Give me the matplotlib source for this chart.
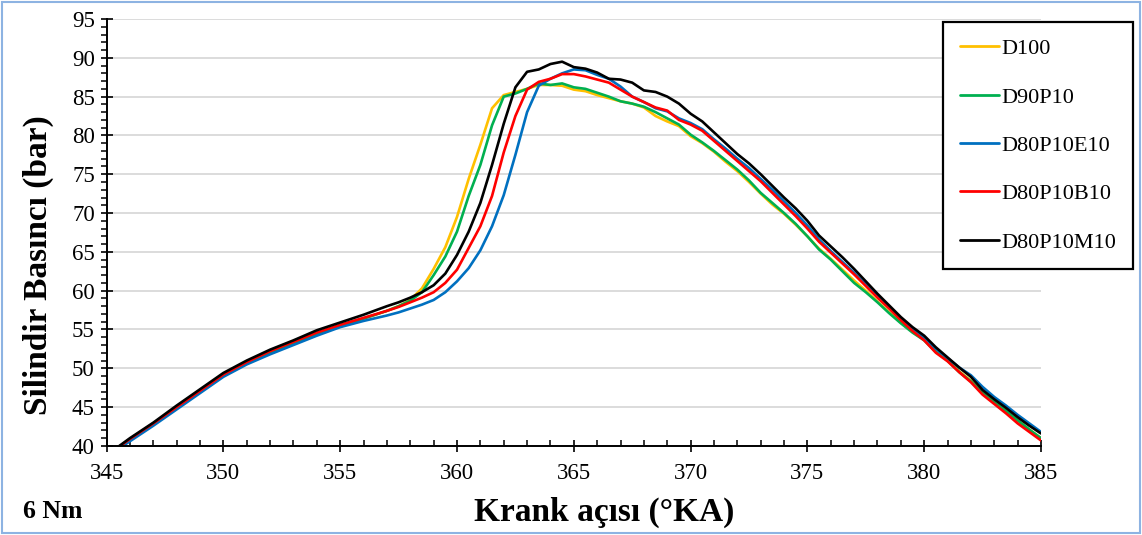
import numpy as np
import matplotlib
matplotlib.use("Agg")
import matplotlib.pyplot as plt
from matplotlib.patches import Rectangle
from matplotlib.ticker import MultipleLocator

plt.rcParams['font.family'] = ['Liberation Serif', 'DejaVu Serif']

# crank angle (°KA)
crank = [345.5, 346, 347, 348, 349, 350, 351, 352, 353, 354, 355, 356, 357, 357.5,
         358, 358.5, 359, 359.5, 360, 360.5, 361, 361.5, 362, 362.5, 363, 363.5,
         364, 364.5, 365, 365.5, 366, 366.5, 367, 367.5, 368, 368.5, 369, 369.5,
         370, 370.5, 371, 371.5, 372, 372.5, 373, 373.5, 374, 374.5, 375, 375.5,
         376, 376.5, 377, 377.5, 378, 378.5, 379, 379.5, 380, 380.5, 381, 381.5,
         382, 382.5, 383, 383.5, 384, 384.5, 385]

d100 = [39.8, 40.8, 42.8, 44.9, 47.0, 49.1, 50.7, 52.0, 53.2, 54.4, 55.4, 56.4, 57.4, 58.0,
        58.8, 60.3, 62.8, 65.6, 69.5, 74.4, 78.8, 83.5, 85.2, 85.6, 86.0, 86.5,
        86.5, 86.4, 85.9, 85.7, 85.2, 84.8, 84.4, 84.1, 83.6, 82.5, 81.8, 81.2,
        79.9, 79.0, 77.9, 76.6, 75.4, 74.0, 72.5, 71.1, 69.9, 68.5, 67.0, 65.4,
        64.1, 62.7, 61.3, 60.0, 58.6, 57.2, 55.9, 54.7, 53.7, 52.2, 51.0, 49.6,
        48.4, 46.9, 45.7, 44.5, 43.3, 42.1, 41.0]

d90p10 = [39.8, 40.8, 42.8, 44.9, 47.0, 49.1, 50.7, 52.0, 53.2, 54.4, 55.4, 56.4, 57.4, 58.0,
          58.7, 59.8, 62.0, 64.4, 67.6, 72.2, 76.2, 81.3, 85.0, 85.4, 86.0, 86.7,
          86.5, 86.7, 86.2, 86.0, 85.5, 85.0, 84.4, 84.1, 83.7, 83.0, 82.2, 81.4,
          80.1, 79.1, 78.0, 76.8, 75.6, 74.2, 72.6, 71.3, 70.0, 68.6, 67.0, 65.3,
          64.0, 62.5, 61.0, 59.8, 58.5, 57.1, 55.8, 54.6, 53.6, 52.1, 51.0, 49.5,
          48.3, 46.8, 45.6, 44.5, 43.3, 42.1, 41.0]

d80p10e10 = [39.6, 40.6, 42.6, 44.7, 46.8, 48.9, 50.5, 51.8, 53.0, 54.2, 55.3, 56.1, 56.8, 57.2,
             57.7, 58.2, 58.8, 59.8, 61.2, 62.9, 65.2, 68.3, 72.3, 77.5, 83.0, 86.4,
             87.3, 88.0, 88.5, 88.4, 87.8, 87.3, 86.3, 85.0, 84.3, 83.5, 83.1, 82.2,
             81.6, 80.8, 79.5, 78.3, 77.0, 75.8, 74.4, 73.0, 71.5, 70.0, 68.4, 66.6,
             65.1, 63.7, 62.3, 60.8, 59.3, 57.8, 56.3, 55.0, 53.9, 52.5, 51.3, 50.1,
             49.1, 47.6, 46.3, 45.2, 44.0, 42.9, 41.8]

d80p10b10 = [39.8, 40.9, 42.9, 45.0, 47.1, 49.2, 50.8, 52.2, 53.4, 54.6, 55.6, 56.5, 57.4, 57.9,
             58.5, 59.1, 59.8, 61.0, 62.7, 65.5, 68.3, 72.2, 77.8, 82.5, 85.9, 86.9,
             87.3, 87.9, 87.9, 87.6, 87.2, 86.8, 85.9, 85.0, 84.3, 83.6, 83.2, 82.0,
             81.4, 80.6, 79.3, 78.0, 76.7, 75.4, 74.1, 72.6, 71.1, 69.6, 68.0, 66.3,
             64.9, 63.5, 62.1, 60.6, 59.1, 57.7, 56.2, 54.8, 53.6, 52.0, 50.9, 49.5,
             48.2, 46.6, 45.4, 44.2, 42.9, 41.8, 40.7]

d80p10m10 = [39.9, 41.0, 43.0, 45.2, 47.3, 49.4, 51.0, 52.4, 53.6, 54.9, 55.9, 56.9, 58.0, 58.5,
             59.1, 59.8, 60.7, 62.2, 64.6, 67.6, 71.3, 76.2, 81.5, 86.2, 88.2, 88.5,
             89.2, 89.5, 88.8, 88.6, 88.1, 87.3, 87.2, 86.8, 85.8, 85.6, 85.0, 84.1,
             82.8, 81.8, 80.4, 79.0, 77.6, 76.4, 75.0, 73.5, 72.0, 70.6, 69.0, 67.1,
             65.7, 64.3, 62.8, 61.2, 59.6, 58.1, 56.6, 55.3, 54.2, 52.7, 51.4, 50.1,
             48.9, 47.2, 46.0, 44.9, 43.7, 42.6, 41.6]

labels = ["D100", "D90P10", "D80P10E10", "D80P10B10", "D80P10M10"]
colors = ["#FFC000", "#00B050", "#0070C0", "#FF0000", "#000000"]
series = [d100, d90p10, d80p10e10, d80p10b10, d80p10m10]

W, H = 1142, 535
fig = plt.figure(figsize=(W / 100, H / 100), dpi=100)
ax = fig.add_axes([106.6 / W, 1 - 445.9 / H, (1041 - 106.6) / W, (445.9 - 19) / H])

for vals, lab, col in zip(series, labels, colors):
    ax.plot(crank, vals, color=col, lw=1.9, label=lab, solid_capstyle='round')

ax.set_xlim(345, 385)
ax.set_ylim(40, 95)
ax.xaxis.set_major_locator(MultipleLocator(5))
ax.xaxis.set_minor_locator(MultipleLocator(1))
ax.yaxis.set_major_locator(MultipleLocator(5))
ax.yaxis.set_minor_locator(MultipleLocator(1))
ax.grid(axis='y', which='major', color='#D9D9D9', lw=1.3)
ax.set_axisbelow(True)

for s in ['top', 'right']:
    ax.spines[s].set_visible(False)
for s in ['left', 'bottom']:
    ax.spines[s].set_linewidth(1.4)

ax.tick_params(axis='x', which='major', direction='inout', length=9, width=1.2,
               labelsize=16.5, pad=8)
ax.tick_params(axis='x', which='minor', direction='in', length=4, width=1.1)
ax.tick_params(axis='y', which='major', direction='inout', length=9, width=1.2,
               labelsize=16.5, pad=4)
ax.tick_params(axis='y', which='minor', direction='out', length=4, width=1.1)

fig.text(604 / W, 1 - 512 / H, "Krank açısı (°KA)", ha='center', va='center',
         fontsize=24, fontweight='bold')
fig.text(38 / W, 1 - 265 / H, "Silindir Basıncı (bar)", ha='center', va='center',
         rotation=90, fontsize=24, fontweight='bold')
fig.text(23 / W, 1 - 511 / H, "6 Nm", ha='left', va='center',
         fontsize=18.5, fontweight='bold')

leg = fig.legend(loc='upper left', bbox_to_anchor=(943 / W, 1 - 22 / H),
                 bbox_transform=fig.transFigure, fontsize=16, frameon=True,
                 fancybox=False, framealpha=1, edgecolor='black',
                 handlelength=1.75, handletextpad=0.12, labelspacing=1.25,
                 borderpad=0.75, borderaxespad=0)
leg.get_frame().set_linewidth(1.6)
for line in leg.get_lines():
    line.set_linewidth(2.0)

fig.patches.append(Rectangle((2 / W, 2 / H), (W - 4) / W, (H - 4) / H,
                             transform=fig.transFigure, fill=False,
                             edgecolor='#8DB3E2', lw=1.5))

fig.savefig("out.png", dpi=100)
